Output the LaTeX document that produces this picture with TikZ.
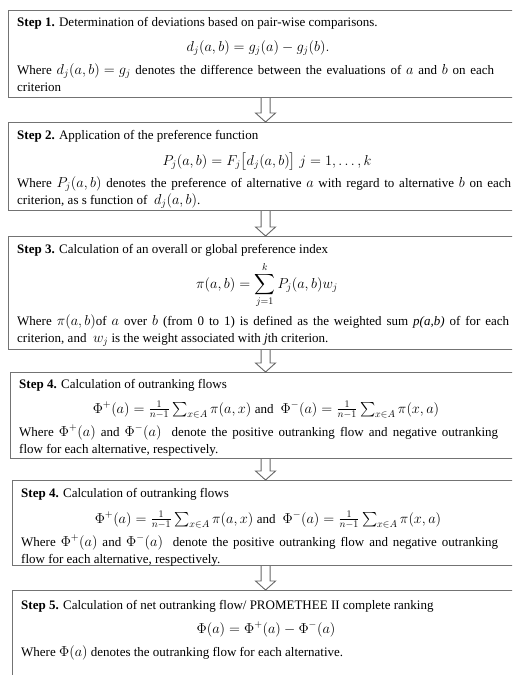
\documentclass[tikz,border=0pt]{standalone}
\usepackage{amsmath}
\usepackage{fontspec}
\setmainfont{Liberation Serif}
\usetikzlibrary{calc}
\tikzset{
  stepframe/.style={draw=black!55, line width=1.1pt, anchor=north west, inner sep=0pt},
  txt/.style={inner sep=0pt, anchor=base west, font=\fontsize{13}{15}\selectfont},
  formula/.style={inner sep=0pt, anchor=base, font=\fontsize{14}{16}\selectfont},
  hollowarr/.style={draw=black!60, line width=0.9pt, line join=miter}
}
\newcommand{\hollowarrow}[2]{%
  \draw[hollowarr] ([xshift=-4.5pt]#1.south) -- ($(#2.north)+(-4.5,-9)$) -- ($(#2.north)+(-10,-9)$) -- (#2.north) -- ($(#2.north)+(10,-9)$) -- ($(#2.north)+(4.5,-9)$) -- ([xshift=4.5pt]#1.south);}
\newcommand{\justline}[2]{\makebox[#1][s]{#2}}
\newcommand{\mm}[1]{\mbox{\fontsize{14}{15}\selectfont$#1$}}
\begin{document}
\begin{tikzpicture}[x=1pt,y=-1pt]
\useasboundingbox (0,0) rectangle (512,675);
\clip (0,0) rectangle (512,675);
% boxes (centred at x=265, right side cut by the page)
\node[stepframe, minimum width=514pt, minimum height=87pt] (b1) at (8,10) {};
\node[stepframe, minimum width=514pt, minimum height=88pt] (b2) at (8,122) {};
\node[stepframe, minimum width=514pt, minimum height=113pt] (b3) at (8,236) {};
\node[stepframe, minimum width=510pt, minimum height=86pt] (b4) at (10,372) {};
\node[stepframe, minimum width=506pt, minimum height=85pt] (b5) at (12,480) {};
\node[stepframe, minimum width=506pt, minimum height=90pt] (b6) at (12,590) {};
% arrows
\hollowarrow{b1}{b2}
\hollowarrow{b2}{b3}
\hollowarrow{b3}{b4}
\hollowarrow{b4}{b5}
\hollowarrow{b5}{b6}
% box 1
\node[txt] (s1) at (17,26) {\textbf{Step 1.} Determination of deviations based on pair-wise comparisons.};
\node[formula] (f1) at (258,51) {$d_j(a,b) = g_j(a) - g_j(b).$};
\node[txt] (w1a) at (17,74) {\justline{477pt}{Where \mm{d_j(a,b) = g_j} denotes the difference between the evaluations of \mm{a} and \mm{b} on each}};
\node[txt] (w1b) at (17,91) {criterion};
% box 2
\node[txt] (s2) at (17,139) {\textbf{Step 2.} Application of the preference function};
\node[formula] (f2) at (267,165) {$P_j(a,b) = F_j\bigl[d_j(a,b)\bigr]\ j = 1, \ldots, k$};
\node[txt] (w2a) at (17,187) {\justline{494pt}{Where \mm{P_j(a,b)} denotes the preference of alternative \mm{a} with regard to alternative \mm{b} on each}};
\node[txt] (w2b) at (17,204) {criterion, as s function of \ \mm{d_j(a,b)}.};
% box 3
\node[txt] (s3) at (17,253) {\textbf{Step 3.} Calculation of an overall or global preference index};
\node[formula] (f3) at (267,288) {$\displaystyle \pi(a,b) = \sum_{j=1}^{k} P_j(a,b)w_j$};
\node[txt] (w3a) at (17,325) {\justline{492pt}{Where \mm{\pi(a,b)}of \mm{a} over \mm{b} (from 0 to 1) is defined as the weighted sum \textit{p(a,b)} of for each}};
\node[txt] (w3b) at (17,342) {criterion, and \ \mm{w_j} is the weight associated with \textit{j}th criterion.};
% box 4
\node[txt] (s4) at (19,388) {\textbf{Step 4.} Calculation of outranking flows};
\node[formula] (f4) at (266,413) {$\Phi^+(a) = \tfrac{1}{n-1}\textstyle\sum_{x\in A}\pi(a,x)$ {\fontsize{13}{15}\selectfont and} \ $\Phi^-(a) = \tfrac{1}{n-1}\textstyle\sum_{x\in A}\pi(x,a)$};
\node[txt] (w4a) at (19,436) {\justline{479pt}{Where \mm{\Phi^+(a)} and \mm{\Phi^-(a)} \ denote the positive outranking flow and negative outranking}};
\node[txt] (w4b) at (19,453) {flow for each alternative, respectively.};
% box 5
\node[txt] (s5) at (21,497) {\textbf{Step 4.} Calculation of outranking flows};
\node[formula] (f5) at (268,523) {$\Phi^+(a) = \tfrac{1}{n-1}\textstyle\sum_{x\in A}\pi(a,x)$ {\fontsize{13}{15}\selectfont and} \ $\Phi^-(a) = \tfrac{1}{n-1}\textstyle\sum_{x\in A}\pi(x,a)$};
\node[txt] (w5a) at (21,546) {\justline{477pt}{Where \mm{\Phi^+(a)} and \mm{\Phi^-(a)} \ denote the positive outranking flow and negative outranking}};
\node[txt] (w5b) at (21,563) {flow for each alternative, respectively.};
% box 6
\node[txt] (s6) at (21,609) {\textbf{Step 5.} Calculation of net outranking flow/ PROMETHEE II complete ranking};
\node[formula] (f6) at (266,633) {$\Phi(a) = \Phi^+(a) - \Phi^-(a)$};
\node[txt] (w6) at (21,656) {Where \mm{\Phi(a)} denotes the outranking flow for each alternative.};
\end{tikzpicture}
\end{document}
